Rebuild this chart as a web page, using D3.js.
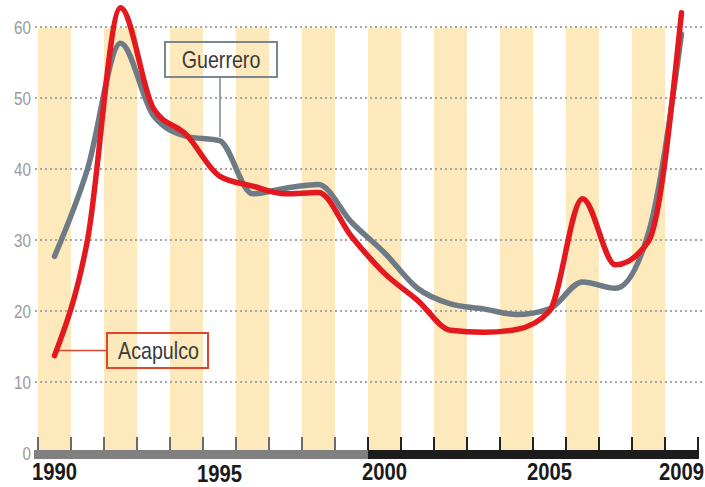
<!DOCTYPE html>
<html>
<head>
<meta charset="utf-8">
<script src="https://cdn.jsdelivr.net/npm/d3@7"></script>
<style>
  html, body { margin: 0; padding: 0; background: #ffffff; }
  svg { display: block; }
  text { font-family: "Liberation Sans", Arial, sans-serif; }
</style>
</head>
<body>
<svg id="chart" width="705" height="487"></svg>
<script>
const years = [1990,1991,1992,1993,1994,1995,1996,1997,1998,1999,2000,2001,2002,2003,2004,2005,2006,2007,2008,2009];
const guerrero = [27.7,40.0,57.7,47.5,44.6,44.0,36.5,37.3,37.8,32.5,28.2,23.2,21.0,20.3,19.5,20.3,24.1,23.2,31.0,59.0];
const acapulco = [13.7,30.0,62.7,48.5,44.8,39.0,37.6,36.5,36.7,30.5,25.3,21.5,17.3,17.0,17.4,20.0,35.8,26.5,29.8,62.0];
const yTicks = [0,10,20,30,40,50,60];
const yearLabels = [1990,1995,2000,2005,2009];

const svg = d3.select("#chart");
const x = d3.scaleLinear().domain([1990, 2010]).range([38, 698]);
const y = d3.scaleLinear().domain([0, 60]).range([453, 27]);
const yearW = x(1991) - x(1990);

// yellow bands (every other year)
svg.append("g").selectAll("rect")
  .data(years.filter((d, i) => i % 2 === 0))
  .join("rect")
  .attr("x", d => x(d)).attr("width", yearW)
  .attr("y", 28).attr("height", 450 - 28)
  .attr("fill", "#fde9bb");

// dotted gridlines
svg.append("g").selectAll("line")
  .data(yTicks.filter(d => d > 0))
  .join("line")
  .attr("x1", 35).attr("x2", 702)
  .attr("y1", d => y(d)).attr("y2", d => y(d))
  .attr("stroke", "#a6a6a6").attr("stroke-width", 2)
  .attr("stroke-dasharray", "2,3");

// y labels (condensed)
svg.append("g").selectAll("text")
  .data(yTicks)
  .join("text")
  .attr("transform", d => `translate(31,${y(d) + 7}) scale(0.8,1)`)
  .attr("text-anchor", "end")
  .attr("font-size", 19).attr("fill", "#9a9a9a")
  .text(d => d);

// axis ticks
const tickYears = d3.range(1990, 2011);
svg.append("g").selectAll("line")
  .data(tickYears)
  .join("line")
  .attr("x1", d => x(d)).attr("x2", d => x(d))
  .attr("y1", 437).attr("y2", 451)
  .attr("stroke", d => d < 2000 ? "#6b6b6b" : "#222")
  .attr("stroke-width", 2);

// axis bar
svg.append("rect").attr("x", x(1990) - 4).attr("y", 450)
  .attr("width", x(2000) - x(1990) + 4).attr("height", 9).attr("fill", "#808080");
svg.append("rect").attr("x", x(2000)).attr("y", 450)
  .attr("width", x(2010) - x(2000) + 1).attr("height", 9).attr("fill", "#1c1c1c");

// year labels (bold condensed)
svg.append("g").selectAll("text")
  .data(yearLabels)
  .join("text")
  .attr("transform", d => `translate(${x(d + 0.5)},${d === 1995 ? 482 : 480}) scale(0.88,1)`)
  .attr("text-anchor", "middle")
  .attr("font-size", 23).attr("font-weight", "bold").attr("fill", "#1a1a1a")
  .text(d => d);

// lines
const line = d3.line()
  .x((d, i) => x(years[i] + 0.5))
  .y(d => y(d))
  .curve(d3.curveMonotoneX);

// annotation leaders
svg.append("line").attr("x1", 220).attr("x2", 220).attr("y1", 77).attr("y2", y(44.5))
  .attr("stroke", "#7b878f").attr("stroke-width", 1.5);
svg.append("line").attr("x1", x(1990.5)).attr("x2", 107).attr("y1", 350.5).attr("y2", 350.5)
  .attr("stroke", "#e0452e").attr("stroke-width", 1.5);

svg.append("path").datum(guerrero)
  .attr("d", line).attr("fill", "none")
  .attr("stroke", "#6e7b84").attr("stroke-width", 5.5)
  .attr("stroke-linecap", "round").attr("stroke-linejoin", "round");

svg.append("path").datum(acapulco)
  .attr("d", line).attr("fill", "none")
  .attr("stroke", "#e3191f").attr("stroke-width", 5.5)
  .attr("stroke-linecap", "round").attr("stroke-linejoin", "round");

// annotation boxes
svg.append("rect").attr("x", 165).attr("y", 42).attr("width", 112).attr("height", 35)
  .attr("fill", "none").attr("stroke", "#7b878f").attr("stroke-width", 2);
svg.append("text").attr("transform", "translate(221,68) scale(0.82,1)").attr("text-anchor", "middle")
  .attr("font-size", 24).attr("fill", "#3a3a3a").text("Guerrero");

svg.append("rect").attr("x", 107).attr("y", 333).attr("width", 101).attr("height", 35)
  .attr("fill", "none").attr("stroke", "#e0452e").attr("stroke-width", 2);
svg.append("text").attr("transform", "translate(158.5,359) scale(0.82,1)").attr("text-anchor", "middle")
  .attr("font-size", 24).attr("fill", "#3a3a3a").text("Acapulco");
</script>
</body>
</html>
